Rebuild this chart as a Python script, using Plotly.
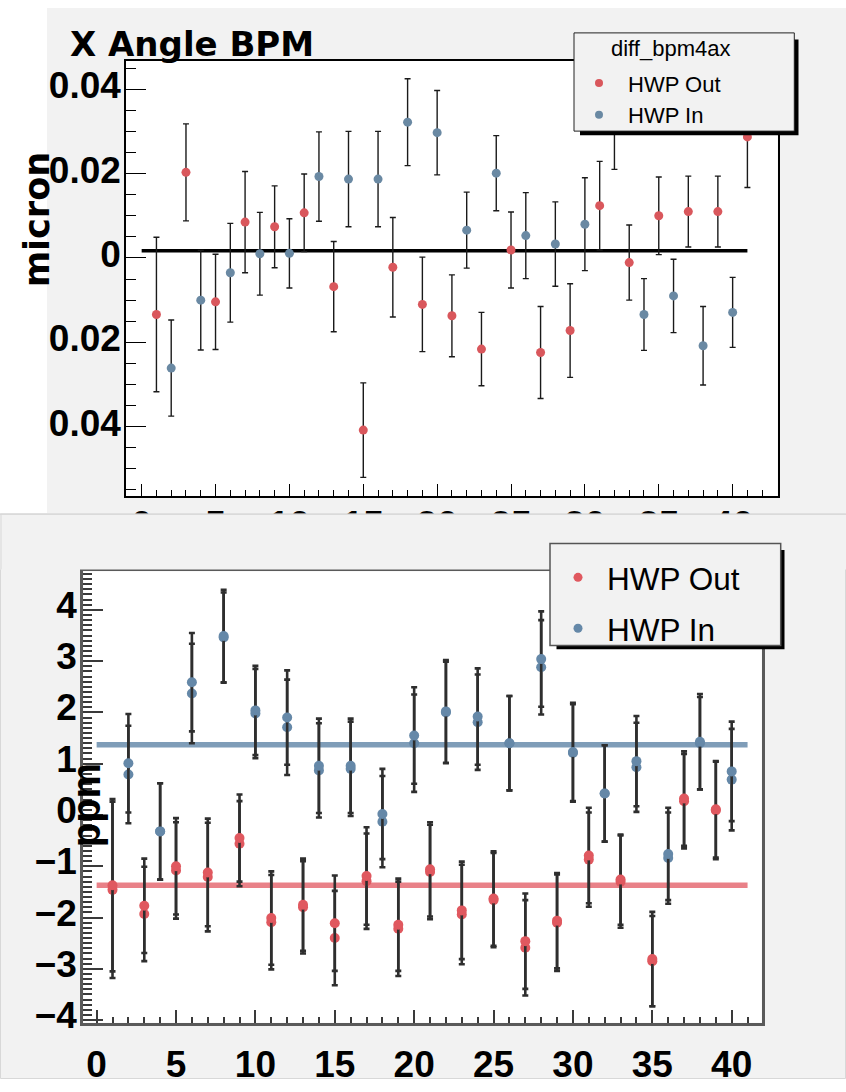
import plotly.graph_objects as go

W, H = 846, 1092

# ---------------- top panel: diff_bpm4ax (micron) ----------------
top_x_out = list(range(1, 42, 2))
top_out = [-0.0134, 0.0203, -0.0104, 0.0085, 0.0074, 0.0107, -0.0068, -0.0408,
           -0.0022, -0.0110, -0.0137, -0.0216, 0.0019, -0.0224, -0.0172, 0.0124,
           -0.0011, 0.0100, 0.0110, 0.0110, 0.0287]
top_out_err = [0.0183, 0.0115, 0.0113, 0.0120, 0.0097, 0.0092, 0.0107, 0.0112,
               0.0118, 0.0112, 0.0097, 0.0087, 0.0090, 0.0109, 0.0111, 0.0105,
               0.0089, 0.0092, 0.0084, 0.0084, 0.0120]
top_x_in = list(range(2, 41, 2))
top_in = [-0.0261, -0.0100, -0.0035, 0.0010, 0.0011, 0.0193, 0.0187, 0.0187,
          0.0322, 0.0297, 0.0066, 0.0201, 0.0053, 0.0033, 0.0080, 0.0310,
          -0.0134, -0.0090, -0.0208, -0.0129]
top_in_err = [0.0114, 0.0118, 0.0117, 0.0098, 0.0082, 0.0106, 0.0113, 0.0113,
              0.0103, 0.0100, 0.0090, 0.0089, 0.0102, 0.0100, 0.0110, 0.0100,
              0.0085, 0.0087, 0.0093, 0.0083]
top_fit = 0.0017
top_yticks = [-0.04, -0.02, 0, 0.02, 0.04]
top_yticklabels = ["0.04", "0.02", "0", "0.02", "0.04"]

# ---------------- bottom panel (ppm), two overlaid passes ----------------
bot_x_out = list(range(1, 40, 2))
bot_out_a = [-1.37, -1.77, -1.00, -1.12, -0.45, -2.01, -1.75, -2.11, -1.19, -2.14,
             -1.06, -1.86, -1.63, -2.46, -2.06, -0.79, -1.26, -2.81, 0.32, 0.11]
bot_out_a_err = [1.68, 0.92, 0.94, 1.05, 0.85, 0.91, 0.90, 0.93, 0.95, 0.90,
                 0.92, 0.95, 0.92, 0.93, 0.93, 0.93, 0.88, 0.92, 0.92, 0.94]
bot_out_b = [-1.46, -1.93, -1.08, -1.21, -0.56, -2.09, -1.80, -2.40, -1.29, -2.22,
             -1.11, -1.94, -1.66, -2.59, -2.10, -0.87, -1.30, -2.85, 0.27, 0.09]
bot_out_b_err = [1.72, 0.92, 0.94, 1.06, 0.83, 0.92, 0.90, 0.92, 0.93, 0.92,
                 0.92, 0.97, 0.92, 0.93, 0.94, 0.92, 0.90, 0.88, 0.92, 0.95]
bot_x_in = list(range(2, 41, 2))
bot_in_a = [1.01, -0.32, 2.59, 3.49, 2.04, 1.90, 0.96, 0.96, 0.02, 1.55,
            2.02, 1.92, 1.40, 3.04, 1.23, 0.42, 1.05, -0.76, 1.43, 0.85]
bot_in_a_err = [0.96, 0.94, 0.96, 0.90, 0.87, 0.92, 0.92, 0.92, 0.88, 0.94,
                1.00, 0.94, 0.92, 0.93, 0.96, 0.94, 0.88, 0.90, 0.93, 0.97]
bot_in_b = [0.79, -0.32, 2.37, 3.46, 1.98, 1.71, 0.87, 0.90, -0.13, 1.40,
            2.00, 1.81, 1.40, 2.88, 1.21, 0.42, 0.93, -0.84, 1.40, 0.69]
bot_in_b_err = [0.95, 0.94, 0.97, 0.88, 0.87, 0.93, 0.92, 0.92, 0.89, 0.95,
                0.99, 0.93, 0.92, 0.92, 0.95, 0.94, 0.87, 0.89, 0.90, 0.99]
bot_fit_out = -1.37
bot_fit_in = 1.37

fit_x = [0, 41]
xticks = list(range(0, 41, 5))

RED = "#d9575c"
BLUE = "#6a89a3"
RED_B = "#e0585f"
BLUE_B = "#6588a8"


def px(x):
    return x / W


def py(y):
    return 1 - y / H


fig = go.Figure()

# top panel
fig.add_trace(go.Scatter(x=fit_x, y=[top_fit, top_fit], mode="lines",
                         line=dict(color="black", width=3.5), showlegend=False,
                         xaxis="x", yaxis="y", hoverinfo="skip"))
fig.add_trace(go.Scatter(x=top_x_out, y=top_out, mode="markers", showlegend=False,
                         marker=dict(color=RED, size=9),
                         error_y=dict(type="data", array=top_out_err, color="#1a1a1a",
                                      thickness=1.4, width=3),
                         xaxis="x", yaxis="y"))
fig.add_trace(go.Scatter(x=top_x_in, y=top_in, mode="markers", showlegend=False,
                         marker=dict(color=BLUE, size=9),
                         error_y=dict(type="data", array=top_in_err, color="#1a1a1a",
                                      thickness=1.4, width=3),
                         xaxis="x", yaxis="y"))
fig.add_trace(go.Scatter(x=[None], y=[None], mode="markers", name="HWP Out",
                         marker=dict(color=RED, size=8), legend="legend",
                         xaxis="x", yaxis="y"))
fig.add_trace(go.Scatter(x=[None], y=[None], mode="markers", name="HWP In",
                         marker=dict(color=BLUE, size=8), legend="legend",
                         xaxis="x", yaxis="y"))

# bottom panel
fig.add_trace(go.Scatter(x=fit_x, y=[bot_fit_in, bot_fit_in], mode="lines",
                         line=dict(color="rgba(104,140,172,0.85)", width=5.5),
                         showlegend=False, xaxis="x2", yaxis="y2", hoverinfo="skip"))
fig.add_trace(go.Scatter(x=fit_x, y=[bot_fit_out, bot_fit_out], mode="lines",
                         line=dict(color="rgba(227,98,106,0.8)", width=5.5),
                         showlegend=False, xaxis="x2", yaxis="y2", hoverinfo="skip"))
for xs, ys, es, col in [(bot_x_out, bot_out_b, bot_out_b_err, RED_B),
                        (bot_x_in, bot_in_b, bot_in_b_err, BLUE_B),
                        (bot_x_out, bot_out_a, bot_out_a_err, RED_B),
                        (bot_x_in, bot_in_a, bot_in_a_err, BLUE_B)]:
    fig.add_trace(go.Scatter(x=xs, y=ys, mode="markers", showlegend=False,
                             marker=dict(color=col, size=10),
                             error_y=dict(type="data", array=es, color="#2e2e2e",
                                          thickness=2.6, width=3),
                             xaxis="x2", yaxis="y2"))
fig.add_trace(go.Scatter(x=[None], y=[None], mode="markers", name="HWP Out",
                         marker=dict(color=RED_B, size=9), legend="legend2",
                         legendgroup="out", xaxis="x2", yaxis="y2"))
fig.add_trace(go.Scatter(x=[None], y=[None], mode="markers", name="HWP In",
                         marker=dict(color=BLUE_B, size=9), legend="legend2",
                         legendgroup="in", xaxis="x2", yaxis="y2"))

tick_font = dict(family="Liberation Sans", size=37, color="black", weight="bold")

axis_top = dict(showline=True, mirror=True, linecolor="black", linewidth=1.5,
                ticks="inside", tickcolor="black", tickwidth=1.2, showgrid=False,
                zeroline=False, tickfont=tick_font)
axis_bot = dict(showline=True, mirror=True, linecolor="#5a5a5a", linewidth=3,
                ticks="inside", tickcolor="#3a3a3a", tickwidth=2, showgrid=False,
                zeroline=False, tickfont=tick_font)

fig.update_layout(
    width=W, height=H,
    margin=dict(l=0, r=0, t=0, b=0),
    paper_bgcolor="white", plot_bgcolor="white",
    xaxis=dict(domain=[px(126), px(777.7)], range=[-1.06, 43.05], anchor="y",
               tickmode="array", tickvals=xticks, ticklen=13, ticklabelstandoff=-5,
               minor=dict(ticks="inside", dtick=1, tick0=0, ticklen=7,
                          tickcolor="black", tickwidth=1.2),
               **axis_top),
    yaxis=dict(domain=[py(502.3), py(61.7)], range=[-0.0565, 0.0467], anchor="x",
               tickmode="array", tickvals=top_yticks, ticktext=top_yticklabels,
               ticklen=20, ticklabelstandoff=-4, ticklabelshift=-4,
               minor=dict(ticks="inside", dtick=0.005, tick0=0, ticklen=10,
                          tickcolor="black", tickwidth=1.2),
               **axis_top),
    xaxis2=dict(domain=[px(83.3), px(761.7)], range=[-0.84, 41.89], anchor="y2",
                tickmode="array", tickvals=xticks, ticklen=13, ticklabelstandoff=7,
                minor=dict(ticks="inside", dtick=1, tick0=0, ticklen=6,
                           tickcolor="#3a3a3a", tickwidth=2),
                **axis_bot),
    yaxis2=dict(domain=[py(1035), py(578.3)], range=[-4.05, 4.75], anchor="x2",
                tickmode="array", tickvals=[-4, -3, -2, -1, 0, 1, 2, 3, 4],
                ticklen=20, ticklabelstandoff=-4, ticklabelshift=-5,
                minor=dict(ticks="inside", dtick=0.1, tick0=0, ticklen=9,
                           tickcolor="#3a3a3a", tickwidth=1.6),
                **axis_bot),
    legend=dict(x=px(570), y=py(63), xanchor="left", yanchor="top",
                bgcolor="rgba(0,0,0,0)", borderwidth=0, itemwidth=48,
                font=dict(family="Liberation Sans", size=22, color="black"),
                tracegroupgap=0),
    legend2=dict(x=px(549), y=py(557), xanchor="left", yanchor="top",
                 bgcolor="rgba(0,0,0,0)", borderwidth=0, itemwidth=48,
                 traceorder="grouped", tracegroupgap=7,
                 font=dict(family="Liberation Sans", size=31.5, color="black")),
)

GRAY = "#f2f2f2"


def rect(x0, y0, x1, y1, **kw):
    return dict(type="rect", xref="paper", yref="paper",
                x0=px(x0), x1=px(x1), y0=py(y1), y1=py(y0), **kw)


shapes = [
    # panel backgrounds
    rect(47, 8, 846, 519.5, fillcolor=GRAY, line=dict(width=0), layer="below"),
    rect(0.5, 520, 845.5, 1091.5, fillcolor=GRAY, line=dict(color="#d8d8d8", width=1),
         layer="below"),
    rect(126, 61.7, 777.7, 502.3, fillcolor="white", line=dict(width=0), layer="below"),
    rect(83.3, 578.3, 761.7, 1035, fillcolor="white", line=dict(width=0), layer="below"),
    # lower panel edge, drawn over the upper axis number row
    rect(0, 520, 846, 576.3, fillcolor=GRAY, line=dict(width=0), layer="above"),
    dict(type="line", xref="paper", yref="paper", x0=0, x1=1, y0=py(520.5), y1=py(520.5),
         line=dict(color="#dadada", width=1.5), layer="above"),
    dict(type="line", xref="paper", yref="paper", x0=px(1), x1=px(1), y0=py(576.3),
         y1=py(520.5), line=dict(color="#d8d8d8", width=1), layer="above"),
    # top legend box with drop shadow
    rect(580, 40, 798.5, 137, fillcolor="black", line=dict(width=0), layer="above"),
    rect(574, 33.3, 794.3, 132.7, fillcolor=GRAY, line=dict(color="#222", width=1),
         layer="above"),
    # bottom legend box with drop shadow
    rect(556.5, 556.5, 784.5, 657, fillcolor="black", line=dict(width=0), layer="above"),
    rect(550, 550, 780.7, 653.3, fillcolor=GRAY, line=dict(color="#555", width=1.5),
         layer="above"),
]
fig.update_layout(shapes=shapes)

fig.update_layout(annotations=[
    dict(text="X Angle BPM", x=px(68), y=py(45), xref="paper", yref="paper",
         xanchor="left", yanchor="middle", showarrow=False,
         font=dict(family="DejaVu Sans", size=34, color="black", weight="bold")),
    dict(text="micron", x=px(37), y=py(223), xref="paper", yref="paper",
         xanchor="center", yanchor="middle", textangle=-90, showarrow=False,
         font=dict(family="DejaVu Sans", size=35, color="black", weight="bold")),
    dict(text="diff_bpm4ax", x=px(670), y=py(49), xref="paper", yref="paper",
         xanchor="center", yanchor="middle", showarrow=False,
         font=dict(family="Liberation Sans", size=22, color="black")),
    dict(text="ppm", x=px(86), y=py(815), xref="paper", yref="paper",
         xanchor="center", yanchor="middle", textangle=-90, showarrow=False,
         font=dict(family="Liberation Sans", size=40, color="black", weight="bold")),
])

fig.write_html("out.html")
